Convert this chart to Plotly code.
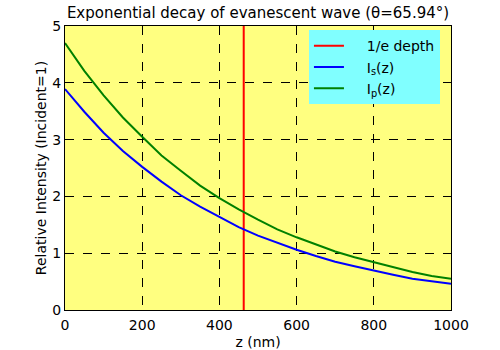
import plotly.graph_objects as go

z_nm = [0, 50, 100, 150, 200, 250, 300, 350, 400, 450, 500,
        550, 600, 650, 700, 750, 800, 850, 900, 950, 1000]
I_s = [3.89, 3.49, 3.12, 2.80, 2.52, 2.26, 2.02, 1.82, 1.64, 1.46, 1.31,
       1.18, 1.06, 0.95, 0.85, 0.77, 0.69, 0.62, 0.55, 0.50, 0.46]
I_p = [4.70, 4.21, 3.78, 3.39, 3.05, 2.72, 2.45, 2.19, 1.97, 1.77, 1.59,
       1.42, 1.28, 1.15, 1.03, 0.93, 0.84, 0.75, 0.67, 0.60, 0.55]
depth_nm = 463
y_range = [0, 5]
x_range = [0, 1000]

FONT = "DejaVu Sans"
PAD = "\u00a0" * 4

fig = go.Figure()
fig.add_trace(go.Scatter(x=[depth_nm, depth_nm], y=y_range, mode="lines",
                         line=dict(color="#FF0000", width=2), name=PAD + "1/e depth"))
fig.add_trace(go.Scatter(x=z_nm, y=I_s, mode="lines",
                         line=dict(color="#0000FF", width=2), name=PAD + "I<sub>s</sub>(z)"))
fig.add_trace(go.Scatter(x=z_nm, y=I_p, mode="lines",
                         line=dict(color="#008000", width=2), name=PAD + "I<sub>p</sub>(z)"))

axis_common = dict(showline=True, linecolor="black", linewidth=1, mirror=True,
                   showgrid=True, gridcolor="black", griddash="dash", gridwidth=1,
                   zeroline=False, ticks="", automargin=False,
                   tickfont=dict(family=FONT, size=14, color="black"))

fig.update_layout(
    width=500, height=350,
    margin=dict(l=65, r=49, t=26, b=40),
    paper_bgcolor="white", plot_bgcolor="#FFFF80",
    font=dict(family=FONT, size=14, color="black"),
    title=dict(text="Exponential decay of evanescent wave (θ=65.94°)",
               x=0.5, xref="paper", xanchor="center", y=0.965, yanchor="middle",
               font=dict(family=FONT, size=15, color="black")),
    xaxis=dict(range=x_range, dtick=200, ticklabelstandoff=2,
               title=dict(text="z (nm)", standoff=8, font=dict(family=FONT, size=14)),
               **axis_common),
    yaxis=dict(range=y_range, dtick=1,
               title=dict(text="Relative Intensity (Incident=1)", standoff=2,
                          font=dict(family=FONT, size=14)),
               **axis_common),
    legend=dict(x=0.632, y=0.985, xanchor="left", yanchor="top",
                bgcolor="#80FFFF", borderwidth=0,
                font=dict(family=FONT, size=14, color="black"),
                tracegroupgap=0),
    showlegend=True,
)

fig.write_html("out.html")
